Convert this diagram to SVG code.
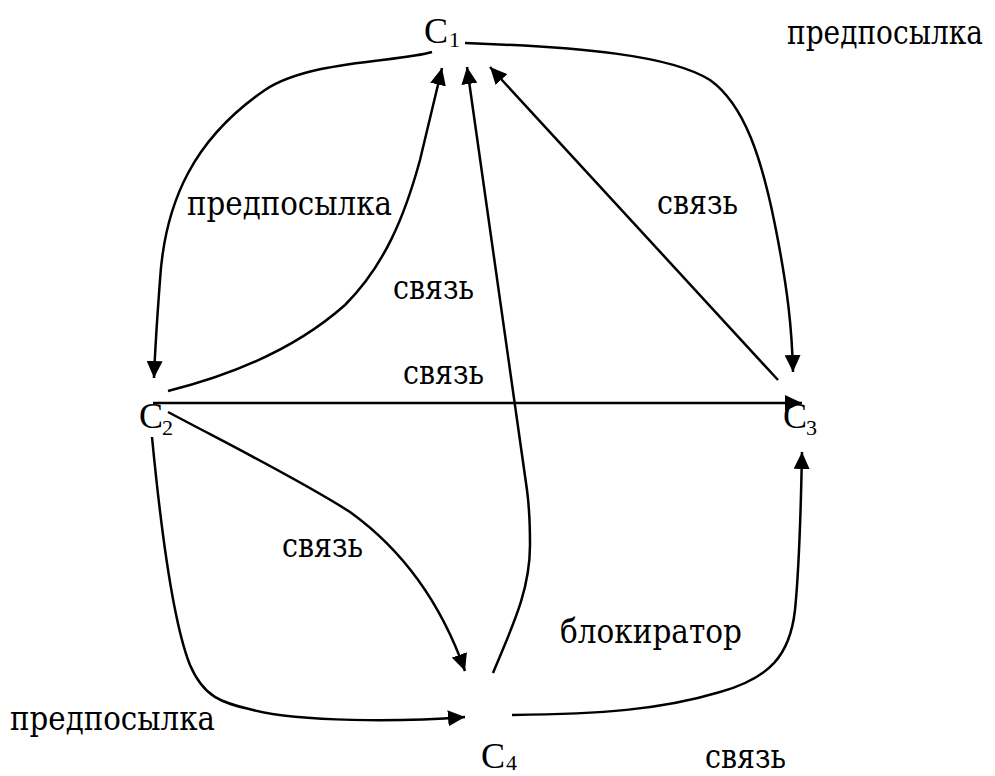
<svg xmlns="http://www.w3.org/2000/svg" width="995" height="776" viewBox="0 0 995 776">
<style>
.lbl{font-family:"DejaVu Serif","Liberation Serif",serif;font-size:33px;fill:#000}
.nd{font-family:"Liberation Serif","DejaVu Serif",serif;font-size:36px;fill:#000}
.sub{font-family:"Liberation Serif","DejaVu Serif",serif;font-size:22px;fill:#000}
.e{fill:none;stroke:#000;stroke-width:2.5;marker-end:url(#ah)}
</style>
<defs>
<marker id="ah" markerUnits="userSpaceOnUse" markerWidth="17" markerHeight="16" refX="17" refY="8" orient="auto" viewBox="0 0 17 16">
<path d="M0,0 L17,8 L0,16 z" fill="#000"/>
</marker>
</defs>
<rect width="995" height="776" fill="#fff"/>
<g id="connectors">
<path class="e" d="M432,52 C400,62 310,60 265,90 C195,138 165,200 160,280 C157,320 155,350 154,378"/>
<path class="e" d="M168,391 C240,373 300,345 345,305 C385,265 405,215 420,160 L442,68"/>
<path class="e" d="M493,673 C513,625 530,590 530,545 C530,520 529,505 527,490 L467,67"/>
<path class="e" d="M778,380 L490,67"/>
<path class="e" d="M465,43 C580,47 670,55 710,80 C745,105 762,160 775,225 C788,290 792,330 793,372"/>
<path class="e" d="M153,403 L802,403"/>
<path class="e" d="M168,412 C230,445 300,480 350,512 C400,548 440,600 465,671"/>
<path class="e" d="M152,437 C160,520 172,620 190,665 C205,700 225,703 253,710 C300,722 400,722 465,717"/>
<path class="e" d="M512,715 C600,714 660,710 720,692 C770,678 790,655 795,610 C800,560 801,500 802,452"/>
</g>
<g id="C1"><text class="nd" x="424" y="43">C</text><text class="sub" x="449" y="47">1</text></g>
<g id="C2"><text class="nd" x="139" y="428">C</text><text class="sub" x="162" y="435">2</text></g>
<g id="C3"><text class="nd" x="783" y="428">C</text><text class="sub" x="806" y="435">3</text></g>
<g id="C4"><text class="nd" x="481" y="768">C</text><text class="sub" x="506" y="770">4</text></g>
<g id="labels">
<text class="lbl" x="787" y="44" textLength="196" lengthAdjust="spacingAndGlyphs">предпосылка</text>
<text class="lbl" x="187" y="215" textLength="205" lengthAdjust="spacingAndGlyphs">предпосылка</text>
<text class="lbl" x="657" y="214" textLength="81" lengthAdjust="spacingAndGlyphs">связь</text>
<text class="lbl" x="393" y="299" textLength="81" lengthAdjust="spacingAndGlyphs">связь</text>
<text class="lbl" x="403" y="384" textLength="81" lengthAdjust="spacingAndGlyphs">связь</text>
<text class="lbl" x="282" y="557" textLength="81" lengthAdjust="spacingAndGlyphs">связь</text>
<text class="lbl" x="560" y="643" textLength="182" lengthAdjust="spacingAndGlyphs">блокиратор</text>
<text class="lbl" x="10" y="730" textLength="205" lengthAdjust="spacingAndGlyphs">предпосылка</text>
<text class="lbl" x="705" y="768" textLength="81" lengthAdjust="spacingAndGlyphs">связь</text>
</g>
</svg>
